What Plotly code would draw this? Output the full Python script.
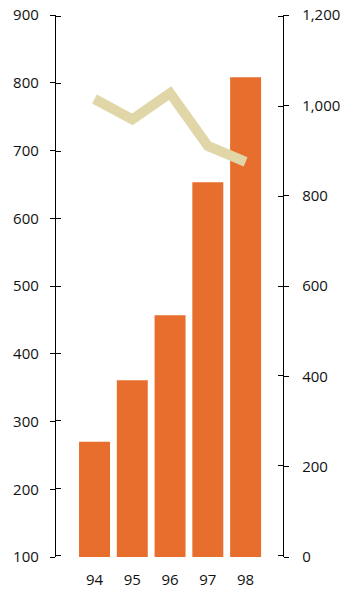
import plotly.graph_objects as go

years = ["94", "95", "96", "97", "98"]
bar_values = [270, 361, 457, 653, 808]
line_values = [1014, 969, 1027, 910, 875]
left_ticks = [100, 200, 300, 400, 500, 600, 700, 800, 900]
right_ticks = [0, 200, 400, 600, 800, 1000, 1200]
right_tick_labels = ["0", "200", "400", "600", "800", "1,000", "1,200"]

xpos = list(range(len(years)))
FONT = dict(family="Open Sans, Lato, sans-serif", size=15, color="#111")

fig = go.Figure()
fig.add_trace(go.Bar(x=xpos, y=[v - 100 for v in bar_values], base=100,
                     marker=dict(color="#E86E2E", line=dict(width=0)), yaxis="y"))
fig.add_trace(go.Scatter(x=xpos, y=line_values, mode="lines", yaxis="y2",
                         line=dict(color="#E0D6A8", width=10)))
# invisible traces to activate the overlay axes that draw the inner half of each tick
fig.add_trace(go.Scatter(x=[0], y=[500], yaxis="y3", mode="markers",
                         marker=dict(opacity=0), hoverinfo="skip"))
fig.add_trace(go.Scatter(x=[0], y=[600], yaxis="y4", mode="markers",
                         marker=dict(opacity=0), hoverinfo="skip"))

axis_common = dict(showgrid=False, zeroline=False, showline=True, linecolor="black",
                   linewidth=1.3, ticklen=5, tickwidth=1.3, tickcolor="black",
                   automargin=False)

# inner tick axes: range extended slightly so edge ticks aren't dropped by plotly
L_PAD, R_PAD = 2, 3

fig.update_layout(
    template="none",
    width=349, height=592,
    margin=dict(l=56, r=66, t=15, b=35),
    paper_bgcolor="white", plot_bgcolor="white",
    showlegend=False, bargap=0.18,
    xaxis=dict(range=[-1.02, 4.99], tickmode="array", tickvals=xpos, ticktext=years,
               showgrid=False, zeroline=False, showline=False, ticks="",
               tickfont=FONT, ticklabelstandoff=12, automargin=False),
    yaxis=dict(range=[100, 900], tickmode="array", tickvals=left_ticks, ticks="outside",
               tickfont=FONT, ticklabelstandoff=8, **axis_common),
    yaxis2=dict(range=[0, 1200], overlaying="y", side="right", tickmode="array",
                tickvals=right_ticks, ticktext=right_tick_labels, ticks="outside",
                tickfont=FONT, ticklabelstandoff=10, **axis_common),
    yaxis3=dict(range=[100 - L_PAD, 900 + L_PAD], overlaying="y", side="left",
                tickmode="array", tickvals=left_ticks, ticks="inside",
                showticklabels=False, **dict(axis_common, showline=False)),
    yaxis4=dict(range=[0 - R_PAD, 1200 + R_PAD], overlaying="y", side="right",
                tickmode="array", tickvals=right_ticks, ticks="inside",
                showticklabels=False, **dict(axis_common, showline=False)),
)

fig.write_html("out.html")
